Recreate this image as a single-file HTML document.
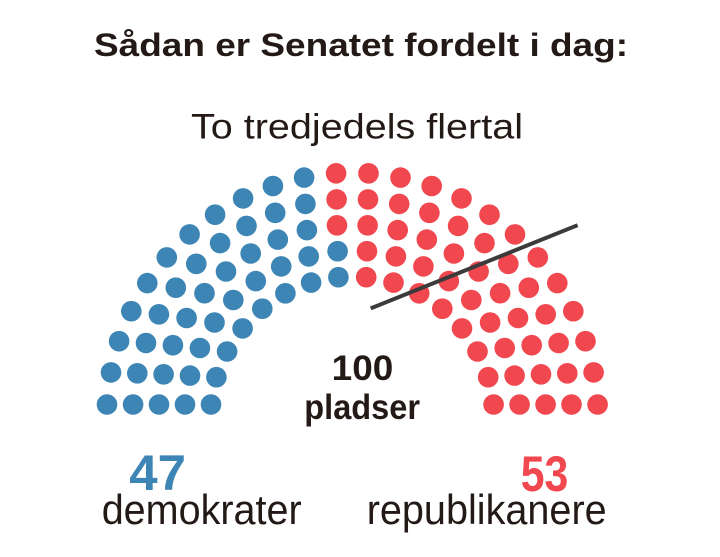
<!DOCTYPE html>
<html>
<head>
<meta charset="utf-8">
<style>
  html, body { margin:0; padding:0; background:#ffffff; }
  body { width:720px; height:557px; overflow:hidden; }
  svg { display:block; }
  text { font-family: "Liberation Sans", "DejaVu Sans", sans-serif; fill:#231916; }
</style>
</head>
<body>
<svg width="720" height="557" viewBox="0 0 720 557" xmlns="http://www.w3.org/2000/svg">
  <rect x="0" y="0" width="720" height="557" fill="#ffffff"/>

  <text x="94" y="56" font-size="32" font-weight="bold" textLength="534" lengthAdjust="spacingAndGlyphs">Sådan er Senatet fordelt i dag:</text>
  <text x="191" y="138.3" font-size="35" textLength="332" lengthAdjust="spacingAndGlyphs">To tredjedels flertal</text>

  <g fill="#3d85b5">
    <!-- Row A (outer) left, blue -->
    <circle cx="107.0" cy="404.5" r="10.3"/>
    <circle cx="111.0" cy="372.4" r="10.3"/>
    <circle cx="119.1" cy="341.2" r="10.3"/>
    <circle cx="131.3" cy="311.2" r="10.3"/>
    <circle cx="147.3" cy="283.1" r="10.3"/>
    <circle cx="166.8" cy="257.4" r="10.3"/>
    <circle cx="189.6" cy="234.4" r="10.3"/>
    <circle cx="215.1" cy="214.7" r="10.3"/>
    <circle cx="243.1" cy="198.4" r="10.3"/>
    <circle cx="272.9" cy="186.0" r="10.3"/>
    <circle cx="304.1" cy="177.6" r="10.3"/>
    <!-- Row B left, blue -->
    <circle cx="133.1" cy="404.5" r="10.3"/>
    <circle cx="137.3" cy="373.3" r="10.3"/>
    <circle cx="146.0" cy="343.0" r="10.3"/>
    <circle cx="158.9" cy="314.3" r="10.3"/>
    <circle cx="175.8" cy="287.7" r="10.3"/>
    <circle cx="196.3" cy="263.8" r="10.3"/>
    <circle cx="220.1" cy="243.1" r="10.3"/>
    <circle cx="246.5" cy="225.9" r="10.3"/>
    <circle cx="275.2" cy="212.8" r="10.3"/>
    <circle cx="305.4" cy="203.9" r="10.3"/>
    <!-- Row C left, blue -->
    <circle cx="159.0" cy="404.5" r="10.3"/>
    <circle cx="163.6" cy="374.3" r="10.3"/>
    <circle cx="172.9" cy="345.2" r="10.3"/>
    <circle cx="186.6" cy="318.0" r="10.3"/>
    <circle cx="204.5" cy="293.2" r="10.3"/>
    <circle cx="226.0" cy="271.5" r="10.3"/>
    <circle cx="250.7" cy="253.5" r="10.3"/>
    <circle cx="277.8" cy="239.6" r="10.3"/>
    <circle cx="306.9" cy="230.1" r="10.3"/>
    <!-- Row D left, blue -->
    <circle cx="185.0" cy="404.5" r="10.3"/>
    <circle cx="190.0" cy="375.6" r="10.3"/>
    <circle cx="199.9" cy="348.0" r="10.3"/>
    <circle cx="214.5" cy="322.5" r="10.3"/>
    <circle cx="233.3" cy="300.0" r="10.3"/>
    <circle cx="255.8" cy="281.1" r="10.3"/>
    <circle cx="281.2" cy="266.4" r="10.3"/>
    <circle cx="308.7" cy="256.4" r="10.3"/>
    <circle cx="337.6" cy="251.2" r="10.3"/>
    <!-- Row E (inner) left, blue -->
    <circle cx="211.0" cy="404.5" r="10.3"/>
    <circle cx="216.4" cy="377.2" r="10.3"/>
    <circle cx="227.1" cy="351.5" r="10.3"/>
    <circle cx="242.6" cy="328.4" r="10.3"/>
    <circle cx="262.3" cy="308.7" r="10.3"/>
    <circle cx="285.4" cy="293.3" r="10.3"/>
    <circle cx="311.1" cy="282.6" r="10.3"/>
    <circle cx="338.4" cy="277.2" r="10.3"/>
  </g>

  <g fill="#f1474f">
    <!-- red on left half (top of outer three rows) -->
    <circle cx="336.1" cy="173.3" r="10.3"/>
    <circle cx="336.6" cy="199.4" r="10.3"/>
    <circle cx="337.0" cy="225.3" r="10.3"/>
    <!-- Row A right -->
    <circle cx="597.6" cy="404.5" r="10.3"/>
    <circle cx="593.6" cy="372.4" r="10.3"/>
    <circle cx="585.5" cy="341.2" r="10.3"/>
    <circle cx="573.3" cy="311.2" r="10.3"/>
    <circle cx="557.3" cy="283.1" r="10.3"/>
    <circle cx="537.8" cy="257.4" r="10.3"/>
    <circle cx="515.0" cy="234.4" r="10.3"/>
    <circle cx="489.5" cy="214.7" r="10.3"/>
    <circle cx="461.5" cy="198.4" r="10.3"/>
    <circle cx="431.7" cy="186.0" r="10.3"/>
    <circle cx="400.5" cy="177.6" r="10.3"/>
    <circle cx="368.5" cy="173.3" r="10.3"/>
    <!-- Row B right -->
    <circle cx="571.5" cy="404.5" r="10.3"/>
    <circle cx="567.3" cy="373.3" r="10.3"/>
    <circle cx="558.6" cy="343.0" r="10.3"/>
    <circle cx="545.7" cy="314.3" r="10.3"/>
    <circle cx="528.8" cy="287.7" r="10.3"/>
    <circle cx="508.3" cy="263.8" r="10.3"/>
    <circle cx="484.5" cy="243.1" r="10.3"/>
    <circle cx="458.1" cy="225.9" r="10.3"/>
    <circle cx="429.4" cy="212.8" r="10.3"/>
    <circle cx="399.2" cy="203.9" r="10.3"/>
    <circle cx="368.0" cy="199.4" r="10.3"/>
    <!-- Row C right -->
    <circle cx="545.6" cy="404.5" r="10.3"/>
    <circle cx="541.0" cy="374.3" r="10.3"/>
    <circle cx="531.7" cy="345.2" r="10.3"/>
    <circle cx="518.0" cy="318.0" r="10.3"/>
    <circle cx="500.1" cy="293.2" r="10.3"/>
    <circle cx="478.6" cy="271.5" r="10.3"/>
    <circle cx="453.9" cy="253.5" r="10.3"/>
    <circle cx="426.8" cy="239.6" r="10.3"/>
    <circle cx="397.7" cy="230.1" r="10.3"/>
    <circle cx="367.6" cy="225.3" r="10.3"/>
    <!-- Row D right -->
    <circle cx="519.6" cy="404.5" r="10.3"/>
    <circle cx="514.6" cy="375.6" r="10.3"/>
    <circle cx="504.7" cy="348.0" r="10.3"/>
    <circle cx="490.1" cy="322.5" r="10.3"/>
    <circle cx="471.3" cy="300.0" r="10.3"/>
    <circle cx="448.8" cy="281.1" r="10.3"/>
    <circle cx="423.4" cy="266.4" r="10.3"/>
    <circle cx="395.9" cy="256.4" r="10.3"/>
    <circle cx="367.0" cy="251.2" r="10.3"/>
    <!-- Row E right -->
    <circle cx="493.6" cy="404.5" r="10.3"/>
    <circle cx="488.2" cy="377.2" r="10.3"/>
    <circle cx="477.5" cy="351.5" r="10.3"/>
    <circle cx="462.0" cy="328.4" r="10.3"/>
    <circle cx="442.3" cy="308.7" r="10.3"/>
    <circle cx="419.2" cy="293.3" r="10.3"/>
    <circle cx="393.5" cy="282.6" r="10.3"/>
    <circle cx="366.2" cy="277.2" r="10.3"/>
  </g>

  <line x1="370.7" y1="308.4" x2="577.6" y2="225.2" stroke="#3b3b3b" stroke-width="4"/>

  <text x="331.7" y="380" font-size="35" font-weight="bold" textLength="61.6" lengthAdjust="spacingAndGlyphs">100</text>
  <text x="304.3" y="419" font-size="35" font-weight="bold" textLength="115.7" lengthAdjust="spacingAndGlyphs">pladser</text>

  <text x="129.3" y="490" font-size="50" font-weight="bold" textLength="56.7" lengthAdjust="spacingAndGlyphs" style="fill:#3d85b5">47</text>
  <text x="520.7" y="491" font-size="50" font-weight="bold" textLength="47.6" lengthAdjust="spacingAndGlyphs" style="fill:#f1474f">53</text>

  <text x="101.7" y="524" font-size="42" textLength="200" lengthAdjust="spacingAndGlyphs">demokrater</text>
  <text x="366.7" y="524" font-size="42" textLength="240" lengthAdjust="spacingAndGlyphs">republikanere</text>
</svg>
</body>
</html>
